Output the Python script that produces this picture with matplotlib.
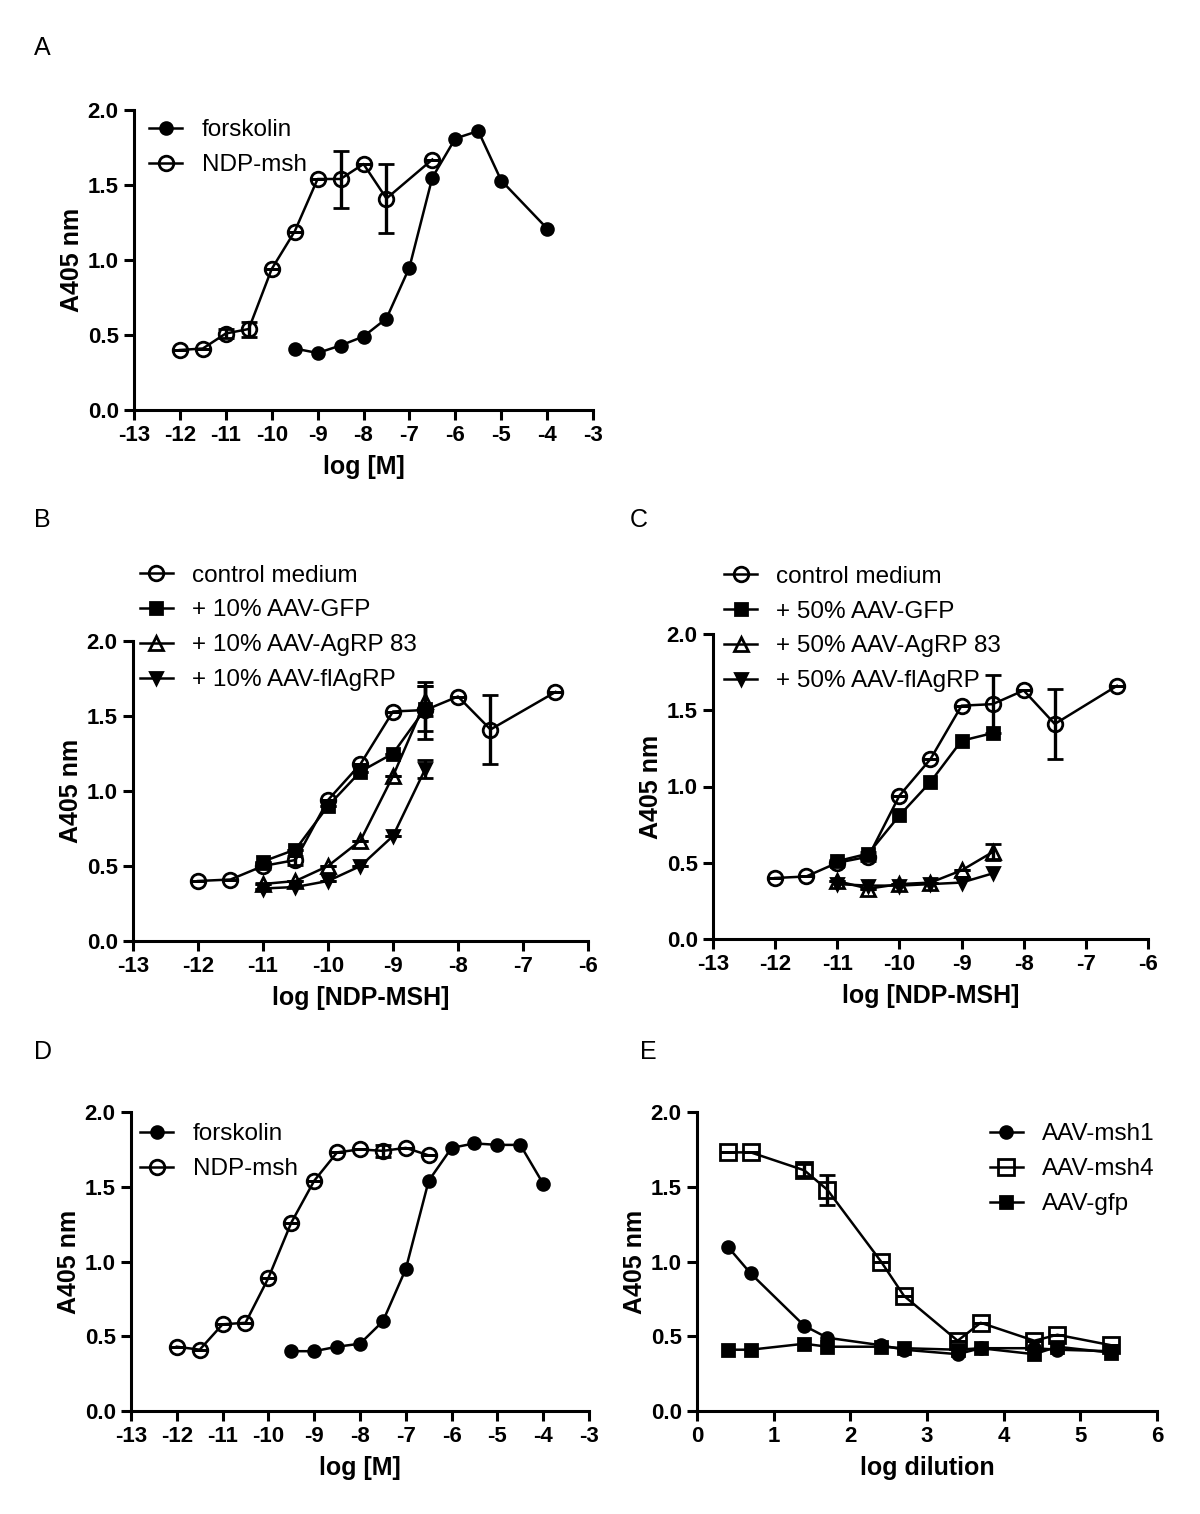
"""Five-panel dose-response figure (A405 nm vs log concentration / dilution)."""

import matplotlib.pyplot as plt
from matplotlib.lines import Line2D
from matplotlib.ticker import FormatStrFormatter

plt.rcParams["font.family"] = ["Liberation Sans", "DejaVu Sans"]
plt.rcParams["axes.unicode_minus"] = False

# Panel A
a_fsk_x = [-9.5, -9, -8.5, -8, -7.5, -7, -6.5, -6, -5.5, -5, -4]
a_fsk_y = [0.41, 0.38, 0.43, 0.49, 0.61, 0.95, 1.55, 1.81, 1.86, 1.53, 1.21]
a_ndp_x = [-12, -11.5, -11, -10.5, -10, -9.5, -9, -8.5, -8, -7.5, -6.5]
a_ndp_y = [0.40, 0.41, 0.51, 0.54, 0.94, 1.19, 1.54, 1.54, 1.64, 1.41, 1.67]
a_ndp_err = [0.0, 0.0, 0.03, 0.05, 0.0, 0.0, 0.0, 0.19, 0.0, 0.23, 0.0]

# Panels B and C share the control curve
ctrl_x = [-12, -11.5, -11, -10.5, -10, -9.5, -9, -8.5, -8, -7.5, -6.5]
ctrl_y = [0.40, 0.41, 0.50, 0.54, 0.94, 1.18, 1.53, 1.54, 1.63, 1.41, 1.66]
ctrl_err = [0.0, 0.0, 0.02, 0.03, 0.0, 0.0, 0.0, 0.19, 0.0, 0.23, 0.0]
treat_x = [-11, -10.5, -10, -9.5, -9, -8.5]

b_gfp_y = [0.53, 0.61, 0.90, 1.13, 1.25, 1.55]
b_gfp_err = [0.0, 0.0, 0.0, 0.0, 0.0, 0.15]
b_agrp_y = [0.38, 0.40, 0.50, 0.67, 1.10, 1.60]
b_agrp_err = [0.0, 0.0, 0.0, 0.0, 0.0, 0.10]
b_fl_y = [0.35, 0.36, 0.40, 0.50, 0.70, 1.15]
b_fl_err = [0.0, 0.0, 0.0, 0.0, 0.0, 0.06]

c_gfp_y = [0.51, 0.56, 0.81, 1.03, 1.30, 1.35]
c_agrp_y = [0.38, 0.33, 0.36, 0.37, 0.45, 0.57]
c_agrp_err = [0.0, 0.0, 0.0, 0.0, 0.0, 0.05]
c_fl_y = [0.36, 0.35, 0.35, 0.36, 0.37, 0.43]

# Panel D
d_fsk_x = [-9.5, -9, -8.5, -8, -7.5, -7, -6.5, -6, -5.5, -5, -4.5, -4]
d_fsk_y = [0.40, 0.40, 0.43, 0.45, 0.60, 0.95, 1.54, 1.76, 1.79, 1.78, 1.78, 1.52]
d_ndp_x = [-12, -11.5, -11, -10.5, -10, -9.5, -9, -8.5, -8, -7.5, -7, -6.5]
d_ndp_y = [0.43, 0.41, 0.58, 0.59, 0.89, 1.26, 1.54, 1.73, 1.75, 1.74, 1.76, 1.71]
d_ndp_err = [0.0, 0.0, 0.0, 0.0, 0.0, 0.0, 0.0, 0.0, 0.0, 0.04, 0.0, 0.0]

# Panel E
e_x = [0.4, 0.7, 1.4, 1.7, 2.4, 2.7, 3.4, 3.7, 4.4, 4.7, 5.4]
e_msh1_y = [1.10, 0.92, 0.57, 0.49, 0.44, 0.41, 0.38, 0.42, 0.42, 0.41, 0.40]
e_msh4_y = [1.73, 1.73, 1.61, 1.48, 1.00, 0.77, 0.47, 0.59, 0.47, 0.51, 0.44]
e_msh4_err = [0.0, 0.0, 0.04, 0.10, 0.0, 0.0, 0.0, 0.0, 0.0, 0.0, 0.0]
e_gfp_y = [0.41, 0.41, 0.45, 0.43, 0.43, 0.42, 0.41, 0.42, 0.38, 0.43, 0.39]

TICK_FS = 16
LABEL_FS = 18
LEGEND_FS = 17.5

MARKERS = {
    "filled_circle": dict(marker="o", mfc="black", ms=8.5),
    "open_circle": dict(marker="o", mfc="none", ms=10.5),
    "filled_square": dict(marker="s", mfc="black", ms=9),
    "open_square": dict(marker="s", mfc="none", ms=11),
    "open_triangle": dict(marker="^", mfc="none", ms=10),
    "filled_tri_down": dict(marker="v", mfc="black", ms=9),
}
LINE_KW = dict(color="black", lw=1.8, mec="black", mew=2.0)


def plot_series(ax, x, y, style, label, err=None):
    kw = dict(clip_on=False, zorder=3, **LINE_KW, **MARKERS[style])
    if err is None:
        ax.plot(x, y, **kw)
    else:
        ax.errorbar(x, y, yerr=err, capsize=6, capthick=2.4, elinewidth=2.4,
                    **kw)
    return Line2D([], [], label=label, **LINE_KW, **MARKERS[style])


def style_axes(ax, xlim, xticks, xlabel):
    for side in ("top", "right"):
        ax.spines[side].set_visible(False)
    for side in ("left", "bottom"):
        ax.spines[side].set_linewidth(2.2)
    ax.set_xlim(*xlim)
    ax.set_ylim(0, 2.0)
    ax.set_xticks(xticks)
    ax.set_yticks([0, 0.5, 1.0, 1.5, 2.0])
    ax.yaxis.set_major_formatter(FormatStrFormatter("%.1f"))
    ax.tick_params(width=2.2, length=7, labelsize=TICK_FS, pad=4)
    for lbl in ax.get_xticklabels() + ax.get_yticklabels():
        lbl.set_fontweight("bold")
    ax.set_xlabel(xlabel, fontsize=LABEL_FS, fontweight="bold", labelpad=6)
    ax.set_ylabel("A405 nm", fontsize=LABEL_FS, fontweight="bold", labelpad=3)


def add_legend(ax, handles, loc, anchor):
    ax.legend(handles=handles, loc=loc, bbox_to_anchor=anchor, frameon=False,
              fontsize=LEGEND_FS, handlelength=1.35, handletextpad=0.8,
              labelspacing=0.53, borderaxespad=0, borderpad=0.1,
              numpoints=1)


W, H = 1200, 1514
fig = plt.figure(figsize=(W / 100, H / 100), dpi=100)


def axes_px(left, right, top, bottom):
    return fig.add_axes([left / W, 1 - bottom / H, (right - left) / W,
                         (bottom - top) / H])


log_ticks_a = list(range(-13, -2))
log_ticks_b = list(range(-13, -5))

# A
ax = axes_px(134, 593, 110, 410)
h = [plot_series(ax, a_fsk_x, a_fsk_y, "filled_circle", "forskolin"),
     plot_series(ax, a_ndp_x, a_ndp_y, "open_circle", "NDP-msh", a_ndp_err)]
style_axes(ax, (-13, -3), log_ticks_a, "log [M]")
add_legend(ax, h, "upper left", (0.028, 0.977))

# B
ax = axes_px(133, 588, 641, 941)
h = [plot_series(ax, ctrl_x, ctrl_y, "open_circle", "control medium", ctrl_err),
     plot_series(ax, treat_x, b_gfp_y, "filled_square", "+ 10% AAV-GFP",
                 b_gfp_err),
     plot_series(ax, treat_x, b_agrp_y, "open_triangle", "+ 10% AAV-AgRP 83",
                 b_agrp_err),
     plot_series(ax, treat_x, b_fl_y, "filled_tri_down", "+ 10% AAV-flAgRP",
                 b_fl_err)]
style_axes(ax, (-13, -6), log_ticks_b, "log [NDP-MSH]")
add_legend(ax, h, "upper left", (0.01, 1.263))

# C
ax = axes_px(713, 1148, 634, 939)
h = [plot_series(ax, ctrl_x, ctrl_y, "open_circle", "control medium", ctrl_err),
     plot_series(ax, treat_x, c_gfp_y, "filled_square", "+ 50% AAV-GFP"),
     plot_series(ax, treat_x, c_agrp_y, "open_triangle", "+ 50% AAV-AgRP 83",
                 c_agrp_err),
     plot_series(ax, treat_x, c_fl_y, "filled_tri_down", "+ 50% AAV-flAgRP")]
style_axes(ax, (-13, -6), log_ticks_b, "log [NDP-MSH]")
add_legend(ax, h, "upper left", (0.02, 1.232))

# D
ax = axes_px(131, 589, 1112, 1411)
h = [plot_series(ax, d_fsk_x, d_fsk_y, "filled_circle", "forskolin"),
     plot_series(ax, d_ndp_x, d_ndp_y, "open_circle", "NDP-msh", d_ndp_err)]
style_axes(ax, (-13, -3), log_ticks_a, "log [M]")
add_legend(ax, h, "upper left", (0.015, 0.97))

# E
ax = axes_px(697, 1157, 1112, 1411)
h = [plot_series(ax, e_x, e_msh1_y, "filled_circle", "AAV-msh1"),
     plot_series(ax, e_x, e_msh4_y, "open_square", "AAV-msh4", e_msh4_err),
     plot_series(ax, e_x, e_gfp_y, "filled_square", "AAV-gfp")]
style_axes(ax, (0, 6), list(range(0, 7)), "log dilution")
add_legend(ax, h, "upper right", (1.0, 0.97))

for letter, x, y in [("A", 34, 48), ("B", 34, 520), ("C", 630, 520),
                     ("D", 34, 1052), ("E", 640, 1052)]:
    fig.text(x / W, 1 - y / H, letter, fontsize=18, va="center", ha="left")

fig.savefig("out.png", dpi=100, facecolor="white")
